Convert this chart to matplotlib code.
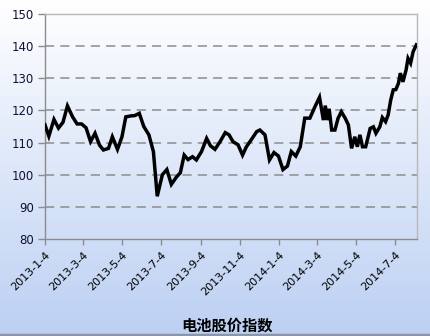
import numpy as np
import pandas as pd
import matplotlib
matplotlib.use("Agg")
import matplotlib.pyplot as plt
from matplotlib.colors import LinearSegmentedColormap

plt.rcParams['font.family'] = ['DejaVu Sans', 'Noto Sans CJK SC']

dates = [
    "2013-01-04", "2013-01-10", "2013-01-18", "2013-01-25", "2013-02-01", "2013-02-08",
    "2013-02-16", "2013-02-23", "2013-03-02", "2013-03-09", "2013-03-16", "2013-03-23",
    "2013-03-30", "2013-04-05", "2013-04-13", "2013-04-19", "2013-04-27", "2013-05-04",
    "2013-05-10", "2013-05-18", "2013-05-24", "2013-05-31", "2013-06-07", "2013-06-15",
    "2013-06-22", "2013-06-28", "2013-07-06", "2013-07-13", "2013-07-20", "2013-07-28",
    "2013-08-03", "2013-08-09", "2013-08-15", "2013-08-22", "2013-08-28", "2013-09-05",
    "2013-09-13", "2013-09-19", "2013-09-26", "2013-10-04", "2013-10-12", "2013-10-18",
    "2013-10-24", "2013-11-01", "2013-11-08", "2013-11-14", "2013-11-22", "2013-11-30",
    "2013-12-05", "2013-12-13", "2013-12-20", "2013-12-27", "2014-01-03", "2014-01-10",
    "2014-01-17", "2014-01-23", "2014-01-30", "2014-02-06", "2014-02-13", "2014-02-21",
    "2014-03-01", "2014-03-08", "2014-03-14", "2014-03-17", "2014-03-20", "2014-03-23",
    "2014-03-27", "2014-04-01", "2014-04-06", "2014-04-11", "2014-04-17", "2014-04-22",
    "2014-04-27", "2014-05-02", "2014-05-06", "2014-05-10", "2014-05-14", "2014-05-19",
    "2014-05-26", "2014-05-31", "2014-06-04", "2014-06-10", "2014-06-14", "2014-06-19",
    "2014-06-23", "2014-06-27", "2014-07-01", "2014-07-05", "2014-07-09", "2014-07-12",
    "2014-07-16", "2014-07-21", "2014-07-24", "2014-07-28", "2014-08-01", "2014-08-06",
]
values = [
    115.5, 112.0, 117.2, 114.5, 116.3, 121.4,
    118.0, 115.8, 115.8, 114.6, 110.3, 112.9,
    109.2, 107.7, 108.2, 111.8, 107.9, 111.8,
    118.0, 118.3, 118.4, 119.1, 115.0, 112.4,
    107.2, 93.3, 100.0, 101.6, 97.0, 99.3,
    100.6, 106.1, 104.7, 105.6, 104.6, 107.2,
    111.3, 109.0, 107.9, 110.3, 113.1, 112.4,
    110.3, 109.3, 106.1, 108.7, 111.0, 113.4,
    113.9, 112.4, 104.6, 106.9, 105.8, 101.6,
    102.7, 107.2, 105.8, 108.7, 117.6, 117.6,
    121.2, 124.1, 117.0, 121.5, 117.0, 120.5,
    113.9, 113.9, 117.6, 119.6, 117.6, 115.5,
    108.2, 111.8, 108.7, 112.4, 108.7, 108.7,
    114.4, 114.9, 112.9, 114.9, 117.8, 116.5,
    118.6, 123.2, 126.4, 126.5, 128.4, 131.6,
    128.9, 132.6, 136.2, 134.7, 138.3, 140.4,
]
tick_dates = ["2013-01-04", "2013-03-04", "2013-05-04", "2013-07-04", "2013-09-04",
              "2013-11-04", "2014-01-04", "2014-03-04", "2014-05-04", "2014-07-04"]
tick_labels = ["2013-1-4", "2013-3-4", "2013-5-4", "2013-7-4", "2013-9-4",
               "2013-11-4", "2014-1-4", "2014-3-4", "2014-5-4", "2014-7-4"]
y_ticks = [80, 90, 100, 110, 120, 130, 140, 150]
title = "电池股价指数"

x = pd.to_datetime(dates)
xt = pd.to_datetime(tick_dates)

fig = plt.figure(figsize=(4.31, 3.36), dpi=100)

# gradient background
bg = fig.add_axes([0, 0, 1, 1], zorder=0)
cmap = LinearSegmentedColormap.from_list("bg", ["#ffffff", "#bcd0f3"])
grad = np.linspace(0, 1, 256).reshape(-1, 1)
bg.imshow(grad, aspect="auto", cmap=cmap, extent=[0, 1, 0, 1], origin="upper")
bg.axhline(0.003, color="#8a96a8", lw=2.5)
bg.set_axis_off()

W, H = 431, 336
left, right, top, bottom = 45, 417, 14, 239
ax = fig.add_axes([left / W, 1 - bottom / H, (right - left) / W, (bottom - top) / H], zorder=1)
ax.patch.set_alpha(0)

ax.plot(x, values, color="black", lw=2.5, solid_joinstyle="miter", zorder=3)

ax.set_ylim(80, 150)
ax.set_yticks(y_ticks)
ax.set_xlim(pd.Timestamp("2013-01-04"), pd.Timestamp("2014-08-07"))
ax.set_xticks(xt)
ax.set_xticklabels(tick_labels, rotation=45, ha="right", rotation_mode="anchor",
                   fontsize=8, color="black")
for lbl in ax.get_yticklabels():
    lbl.set_fontsize(8.5)
    lbl.set_color("#111133")

for yv in y_ticks[1:-1]:
    ax.axhline(yv, color="#8c8c8c", lw=1.1, dashes=(6, 4), zorder=1)

for s in ["left", "bottom"]:
    ax.spines[s].set_color("#8c8c8c")
    ax.spines[s].set_linewidth(1.0)
for s in ["top", "right"]:
    ax.spines[s].set_color("#b8b8b8")
    ax.spines[s].set_linewidth(1.0)

ax.tick_params(axis="y", direction="out", length=5, width=1, color="#8c8c8c", pad=3)
ax.tick_params(axis="x", direction="out", length=4, width=1, color="#8c8c8c", pad=4)

fig.text(227 / W, 1 - 326 / H, title, ha="center", va="center", fontsize=11,
         fontweight="bold", family=["Noto Sans CJK SC", "DejaVu Sans"])

fig.savefig("out.png", dpi=100)
